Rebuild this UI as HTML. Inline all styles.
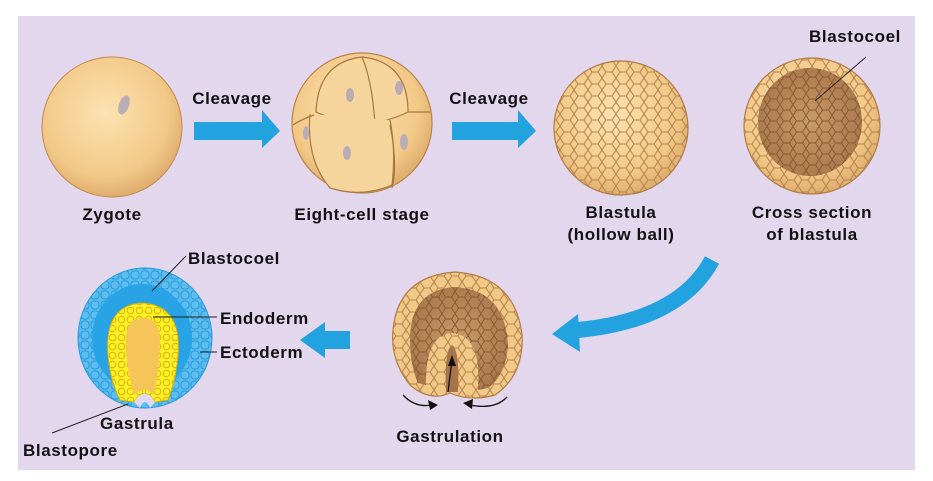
<!DOCTYPE html>
<html><head><meta charset="utf-8"><style>
html,body{margin:0;padding:0;background:#fff;}
svg{display:block}
text{font-family:"Liberation Sans",Arial,sans-serif;font-weight:bold;font-size:17px;letter-spacing:0.6px;fill:#111;}
</style></head><body>
<svg width="933" height="481" viewBox="0 0 933 481" xmlns="http://www.w3.org/2000/svg">
<defs>
<radialGradient id="egg" cx="0.45" cy="0.4" r="0.65">
<stop offset="0" stop-color="#fbe3b2"/><stop offset="0.7" stop-color="#f2c887"/><stop offset="1" stop-color="#d9a464"/>
</radialGradient>
<radialGradient id="dark" cx="0.5" cy="0.5" r="0.6">
<stop offset="0" stop-color="#c99a6a"/><stop offset="1" stop-color="#a67448"/>
</radialGradient>
<pattern id="cells" width="14" height="12" patternUnits="userSpaceOnUse">
<path d="M0 6 L4 0 L10 0 L14 6 L10 12 L4 12 Z" fill="none" stroke="#b7864f" stroke-width="1.1"/>
</pattern>
<pattern id="cellsD" width="13" height="11" patternUnits="userSpaceOnUse">
<path d="M0 5.5 L3.5 0 L9.5 0 L13 5.5 L9.5 11 L3.5 11 Z" fill="none" stroke="#8a5a33" stroke-width="1"/>
</pattern>
<pattern id="cellsB" width="10" height="10" patternUnits="userSpaceOnUse">
<rect x="1" y="1" width="8" height="8" rx="3" fill="none" stroke="#2a9ad8" stroke-width="1"/>
</pattern>
<pattern id="cellsY" width="9" height="9" patternUnits="userSpaceOnUse">
<circle cx="4.5" cy="4.5" r="3.3" fill="none" stroke="#d8b400" stroke-width="1"/>
</pattern>
</defs>
<rect x="18" y="16" width="897" height="454" fill="#e3d7ed"/>

<!-- Zygote -->
<circle cx="112" cy="127" r="70" fill="url(#egg)" stroke="#c08a50" stroke-width="1"/>
<ellipse cx="124" cy="105" rx="5" ry="10" transform="rotate(20 124 105)" fill="#b8adb5"/>
<text x="112" y="220" text-anchor="middle">Zygote</text>

<!-- Arrow 1 -->
<text x="232" y="104" text-anchor="middle">Cleavage</text>
<polygon points="194,122 262,122 262,110 280,131 262,148 262,140 194,140" fill="#23a2e0"/>

<!-- Eight-cell -->
<circle cx="362" cy="123" r="70" fill="url(#egg)" stroke="#b88248" stroke-width="1.2"/>
<path d="M316 112 Q318 62 362 57 Q408 62 408 112 Q364 134 316 112Z" fill="#f6d59c" stroke="#a8763f" stroke-width="1.2"/>
<path d="M362 57 Q372 80 375 124" fill="none" stroke="#a8763f" stroke-width="1.2"/>
<path d="M310 114 Q306 160 330 188 Q362 198 392 185 Q396 150 390 120" fill="#f6d59c" stroke="#a8763f" stroke-width="1.2"/>
<path d="M390 125 Q398 165 392 188 M314 115 Q300 120 293 125 M408 112 L430 112" fill="none" stroke="#a8763f" stroke-width="1.2"/>
<ellipse cx="350" cy="95" rx="4" ry="7" fill="#b8adb5"/>
<ellipse cx="399" cy="88" rx="4" ry="7" fill="#b8adb5"/>
<ellipse cx="347" cy="153" rx="4" ry="7" fill="#b8adb5"/>
<ellipse cx="404" cy="142" rx="4" ry="8" fill="#b8adb5"/>
<ellipse cx="306" cy="133" rx="3" ry="7" fill="#b8adb5"/>
<text x="362" y="220" text-anchor="middle">Eight-cell stage</text>

<!-- Arrow 2 -->
<text x="489" y="104" text-anchor="middle">Cleavage</text>
<polygon points="452,122 518,122 518,110 536,131 518,148 518,140 452,140" fill="#23a2e0"/>

<!-- Blastula -->
<circle cx="621" cy="128" r="67" fill="url(#egg)"/>
<circle cx="621" cy="128" r="67" fill="url(#cells)" stroke="#b07a44" stroke-width="1.2"/>
<text x="621" y="218" text-anchor="middle">Blastula</text>
<text x="621" y="240" text-anchor="middle">(hollow ball)</text>

<!-- Cross section -->
<circle cx="812" cy="126" r="68" fill="url(#egg)" stroke="#b07a44" stroke-width="1.2"/>
<circle cx="812" cy="126" r="68" fill="url(#cells)"/>
<ellipse cx="810" cy="122" rx="52" ry="54" fill="url(#dark)"/>
<ellipse cx="810" cy="122" rx="52" ry="54" fill="url(#cellsD)"/>
<text x="855" y="42" text-anchor="middle">Blastocoel</text>
<line x1="866" y1="57" x2="815" y2="101" stroke="#222" stroke-width="1"/>
<text x="812" y="218" text-anchor="middle">Cross section</text>
<text x="812" y="240" text-anchor="middle">of blastula</text>

<!-- Curved arrow -->
<path d="M712 260 Q680 320 578 330" fill="none" stroke="#23a2e0" stroke-width="16"/>
<polygon points="552,334 578,314 580,352" fill="#23a2e0"/>

<!-- Gastrulation embryo -->
<path d="M450 393 Q430 402 410 385 Q390 360 393 330 Q398 276 455 272 Q515 276 522 335 Q524 375 495 395 Q470 402 450 393Z" fill="#f2c887" stroke="#b07a44" stroke-width="1.2"/>
<path d="M450 393 Q430 402 410 385 Q390 360 393 330 Q398 276 455 272 Q515 276 522 335 Q524 375 495 395 Q470 402 450 393Z" fill="url(#cells)"/>
<path d="M410 340 Q410 290 455 287 Q505 290 508 345 Q506 375 488 388 L478 390 Q482 335 452 333 Q425 335 426 385 L418 383 Q410 365 410 340Z" fill="url(#dark)"/>
<path d="M410 340 Q410 290 455 287 Q505 290 508 345 Q506 375 488 388 L478 390 Q482 335 452 333 Q425 335 426 385 L418 383 Q410 365 410 340Z" fill="url(#cellsD)"/>
<path d="M452 345 Q444 350 446 392 L458 392 Q460 350 452 345Z" fill="#a67448"/>
<path d="M448 392 Q450 375 452 360" stroke="#111" stroke-width="1.3" fill="none"/>
<polygon points="452,355 448,366 456,366" fill="#111"/>
<path d="M403 395 Q415 408 432 405" stroke="#111" stroke-width="1.3" fill="none"/>
<polygon points="438,405 428,400 430,410" fill="#111"/>
<path d="M507 397 Q495 410 470 405" stroke="#111" stroke-width="1.3" fill="none"/>
<polygon points="463,403 473,399 472,409" fill="#111"/>
<text x="450" y="442" text-anchor="middle">Gastrulation</text>

<!-- Left arrow -->
<polygon points="350,331 325,331 325,322 300,340 325,358 325,349 350,349" fill="#23a2e0"/>

<!-- Gastrula -->
<ellipse cx="145" cy="338" rx="67" ry="70" fill="#5bbdf0" stroke="#2a9ad8" stroke-width="1"/>
<ellipse cx="145" cy="338" rx="67" ry="70" fill="url(#cellsB)"/>
<ellipse cx="142" cy="338" rx="50" ry="54" fill="#27a3e6"/>
<path d="M120 400 Q110 380 108 355 Q104 305 142 303 Q182 305 178 355 Q176 380 168 400 L155 402 Q145 385 134 402Z" fill="#fff02a" stroke="#d8b400" stroke-width="1"/>
<path d="M120 400 Q110 380 108 355 Q104 305 142 303 Q182 305 178 355 Q176 380 168 400 L155 402 Q145 385 134 402Z" fill="url(#cellsY)"/>
<path d="M134 395 Q125 360 126 340 Q126 318 142 318 Q160 318 160 340 Q160 365 154 395 Q145 385 134 395Z" fill="#f5c55a"/>
<path d="M134 402 Q145 385 155 402 L150 408 Q145 396 140 408Z" fill="#e3d7ed"/>
<text x="188" y="264">Blastocoel</text>
<line x1="186" y1="256" x2="152" y2="291" stroke="#222" stroke-width="1"/>
<text x="220" y="324">Endoderm</text>
<line x1="153" y1="317" x2="217" y2="317" stroke="#222" stroke-width="1"/>
<text x="220" y="358">Ectoderm</text>
<line x1="200" y1="352" x2="217" y2="352" stroke="#222" stroke-width="1"/>
<text x="100" y="429">Gastrula</text>
<text x="23" y="456">Blastopore</text>
<line x1="52" y1="433" x2="128" y2="404" stroke="#222" stroke-width="1"/>
</svg>
</body></html>
